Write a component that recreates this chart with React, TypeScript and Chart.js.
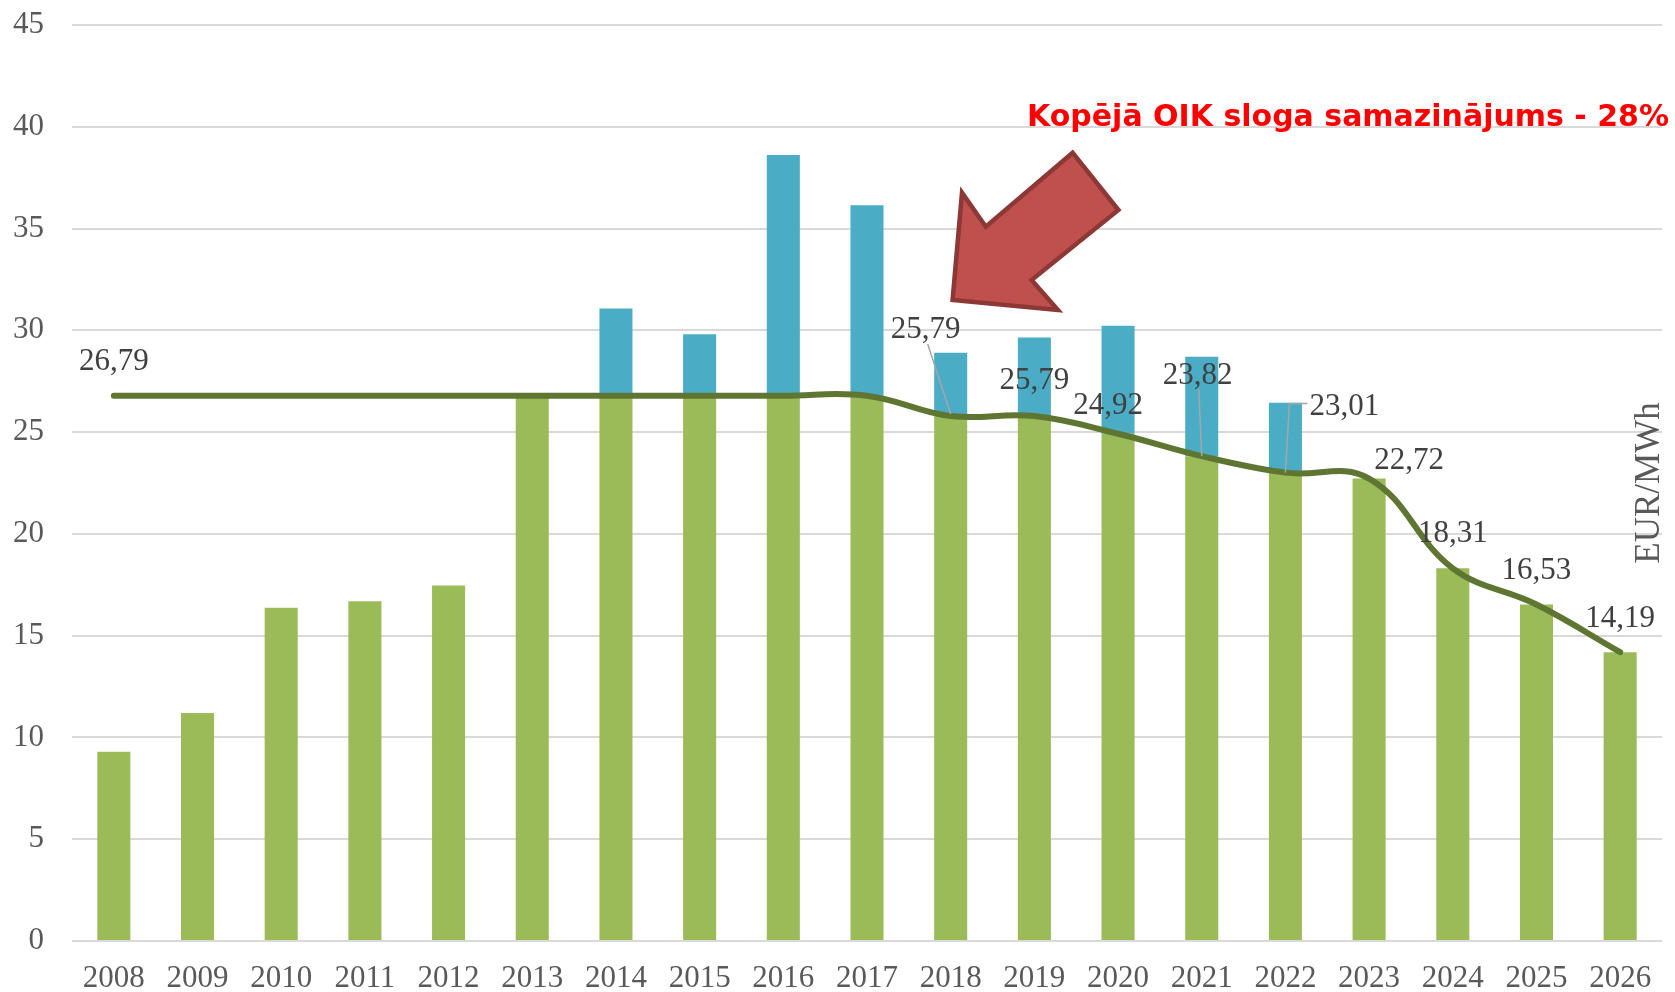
import React, { useEffect, useRef } from 'react';
import { Chart, registerables } from 'chart.js';

Chart.register(...registerables);

// ---- data ----
const years = ['2008', '2009', '2010', '2011', '2012', '2013', '2014', '2015', '2016', '2017', '2018', '2019', '2020', '2021', '2022', '2023', '2024', '2025', '2026'];
const baseValues = [9.3, 11.2, 16.37, 16.69, 17.47, 26.79, 26.79, 26.79, 26.79, 26.79, 25.79, 25.79, 24.92, 23.82, 23.01, 22.72, 18.31, 16.53, 14.19];
const extraValues = [null, null, null, null, null, null, 4.28, 3.02, 11.82, 9.35, 3.11, 3.86, 5.3, 4.88, 3.43, null, null, null, null];
const lineValues = [26.79, 26.79, 26.79, 26.79, 26.79, 26.79, 26.79, 26.79, 26.79, 26.79, 25.79, 25.79, 24.92, 23.82, 23.01, 22.72, 18.31, 16.53, 14.19];
const yMin = 0;
const yMax = 45;
const yStep = 5;
const titleText = 'Kopējā OIK sloga samazinājums - 28%';
const unitText = 'EUR/MWh';

// label placement (offsets from the line point, in px)
const labelOffsets: Record<number, { dx: number; dy: number; leader?: number[][] }> = {
  0: { dx: 0, dy: -34 },
  10: { dx: -25, dy: -86, leader: [[-23, -72], [0, -2]] },
  11: { dx: 0, dy: -35 },
  12: { dx: -10, dy: -28 },
  13: { dx: -4, dy: -80, leader: [[-3, -67], [0, 0]] },
  14: { dx: 59, dy: -66, leader: [[22, -69], [4, -69], [0, 0]] },
  15: { dx: 40, dy: -18 },
  16: { dx: 0, dy: -34 },
  17: { dx: 0, dy: -34 },
  18: { dx: 0, dy: -33 },
};

const SERIF = '"Liberation Serif", "Times New Roman", serif';

const overlayPlugin = {
  id: 'overlay',
  afterDatasetsDraw(chart: any) {
    const ctx = chart.ctx;
    const xs = chart.scales.x;
    const ys = chart.scales.y;
    ctx.save();
    // leader lines
    ctx.strokeStyle = '#A6A6A6';
    ctx.lineWidth = 1.5;
    Object.keys(labelOffsets).forEach((k) => {
      const i = Number(k);
      const o = labelOffsets[i];
      const px = xs.getPixelForValue(i);
      const py = ys.getPixelForValue(lineValues[i]);
      if (o.leader) {
        ctx.beginPath();
        o.leader.forEach((p, j) => {
          if (j === 0) ctx.moveTo(px + p[0], py + p[1]);
          else ctx.lineTo(px + p[0], py + p[1]);
        });
        ctx.stroke();
      }
    });
    // labels
    ctx.font = `31px ${SERIF}`;
    ctx.fillStyle = '#404040';
    ctx.textAlign = 'center';
    ctx.textBaseline = 'middle';
    Object.keys(labelOffsets).forEach((k) => {
      const i = Number(k);
      const o = labelOffsets[i];
      const px = xs.getPixelForValue(i);
      const py = ys.getPixelForValue(lineValues[i]);
      ctx.fillText(lineValues[i].toFixed(2).replace('.', ','), px + o.dx, py + o.dy);
    });
    ctx.restore();
  },
  afterDraw(chart: any) {
    const ctx = chart.ctx;
    ctx.save();
    // unit title, rotated
    ctx.font = `35px ${SERIF}`;
    ctx.fillStyle = '#595959';
    ctx.textAlign = 'center';
    ctx.textBaseline = 'middle';
    ctx.translate(1650, 483);
    ctx.rotate(-Math.PI / 2);
    ctx.fillText(unitText, 0, 0);
    ctx.restore();

    // arrow
    ctx.save();
    const pts = [[952.6, 300], [962, 192.7], [985.8, 226.7], [1072.6, 152.7], [1118.4, 210], [1031.6, 280], [1057.9, 310]];
    ctx.beginPath();
    pts.forEach((p, j) => (j === 0 ? ctx.moveTo(p[0], p[1]) : ctx.lineTo(p[0], p[1])));
    ctx.closePath();
    ctx.fillStyle = '#C0504D';
    ctx.fill();
    ctx.lineWidth = 4.5;
    ctx.lineJoin = 'miter';
    ctx.strokeStyle = '#8C3836';
    ctx.stroke();
    ctx.restore();

    // red title
    ctx.save();
    ctx.font = 'bold 30px "DejaVu Sans", Verdana, sans-serif';
    ctx.fillStyle = '#FF0000';
    ctx.textAlign = 'left';
    ctx.textBaseline = 'alphabetic';
    const w = ctx.measureText(titleText).width;
    const target = 642;
    ctx.translate(1027, 126);
    ctx.scale(target / w, 1);
    ctx.fillText(titleText, 0, 0);
    ctx.restore();
  },
};

export default function App() {
  const ref = useRef<HTMLCanvasElement | null>(null);
  useEffect(() => {
    if (!ref.current) return;
    const chart = new Chart(ref.current, {
      type: 'bar',
      data: {
        labels: years,
        datasets: [
          {
            type: 'line',
            label: 'line',
            data: lineValues,
            borderColor: '#5E7631',
            borderWidth: 6,
            borderCapStyle: 'round',
            borderJoinStyle: 'round',
            tension: 0.4,
            pointRadius: 0,
            fill: false,
            stack: 'line',
            order: 0,
          } as any,
          {
            type: 'bar',
            label: 'base',
            data: baseValues,
            backgroundColor: '#9BBB59',
            stack: 'bars',
            order: 1,
            categoryPercentage: 1,
            barPercentage: 0.395,
          },
          {
            type: 'bar',
            label: 'extra',
            data: extraValues as any,
            backgroundColor: '#4BACC6',
            stack: 'bars',
            order: 1,
            categoryPercentage: 1,
            barPercentage: 0.395,
          },
        ],
      },
      options: {
        animation: false,
        responsive: false,
        maintainAspectRatio: false,
        devicePixelRatio: 1,
        layout: { padding: { left: 0, right: 13, top: 25, bottom: 0 } },
        plugins: { legend: { display: false }, tooltip: { enabled: false } },
        scales: {
          x: {
            stacked: true,
            grid: { display: false, drawTicks: false },
            border: { display: false },
            ticks: {
              color: '#595959',
              font: { family: SERIF, size: 31 },
              padding: 19,
              maxRotation: 0,
              autoSkip: false,
            },
            afterFit: (s: any) => {
              s.height = 51;
            },
          },
          y: {
            stacked: true,
            min: yMin,
            max: yMax,
            grid: { color: '#D9D9D9', lineWidth: 2, drawTicks: false },
            border: { display: false },
            ticks: {
              stepSize: yStep,
              color: '#595959',
              font: { family: SERIF, size: 31 },
              padding: 28,
            },
            afterFit: (s: any) => {
              s.width = 72;
              s.paddingTop = 0;
              s.paddingBottom = 0;
            },
          },
        },
      },
      plugins: [overlayPlugin],
    });
    return () => chart.destroy();
  }, []);
  return (
    <div style={{ position: 'fixed', left: 0, top: 0, width: 1675, height: 992, background: '#fff' }}>
      <canvas ref={ref} width={1675} height={992} style={{ display: 'block' }} />
    </div>
  );
}
